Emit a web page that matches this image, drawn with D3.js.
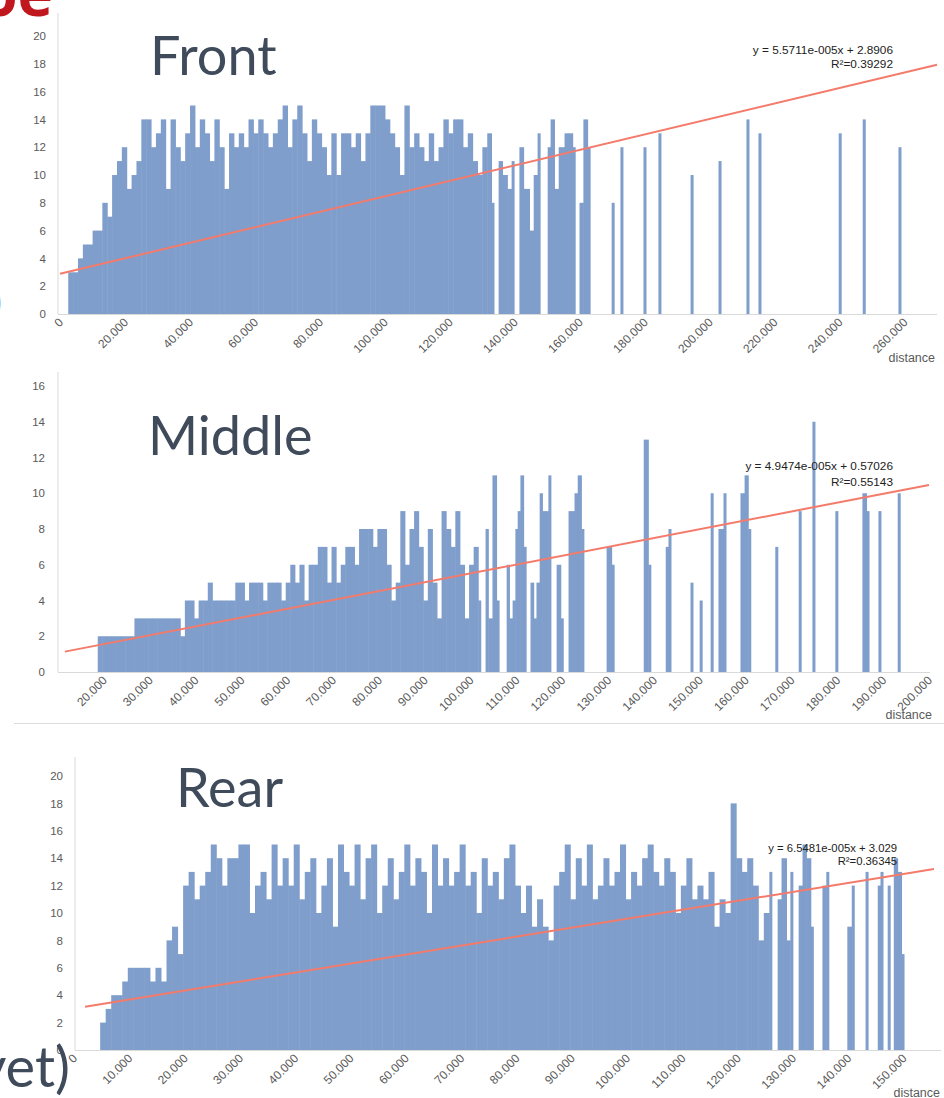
<!DOCTYPE html>
<html>
<head>
<meta charset="utf-8">
<script src="https://cdn.jsdelivr.net/npm/d3@7"></script>
<style>
  body { margin: 0; background: #fff; }
  svg { display: block; }
</style>
</head>
<body>
<svg id="chart" width="944" height="1098"></svg>
<script>
'use strict';

// ---- Front ----
const frontDist = [3000, 4500, 6000, 7500, 9000, 10500, 12000, 13500, 15000, 16500,
  18000, 19500, 21000, 22500, 24000, 25500, 27000, 28500, 30000, 31500,
  33000, 34500, 36000, 37500, 39000, 40500, 42000, 43500, 45000, 46500,
  48000, 49500, 51000, 52500, 54000, 55500, 57000, 58500, 60000, 61500,
  63000, 64500, 66000, 67500, 69000, 70500, 72000, 73500, 75000, 76500,
  78000, 79500, 81000, 82500, 84000, 85500, 87000, 88500, 90000, 91500,
  93000, 94500, 96000, 97500, 99000, 100500, 102000, 103500, 105000, 106500,
  108000, 109500, 111000, 112500, 114000, 115500, 117000, 118500, 120000, 121500,
  123000, 124500, 126000, 127500, 129000, 130500, 132000,
  133300, 135500, 136700, 138200, 139500, 141900, 143200, 145000, 146300, 147500,
  150600, 151500, 152700, 154000, 155800, 157000, 158300, 160400, 161600, 162900,
  170300, 173000, 180100, 184700, 194600, 203200, 211800, 215500, 240200, 247600, 258600];
const frontCount = [3, 3, 4, 5, 5, 6, 6, 8, 7, 10,
  11, 12, 9, 10, 11, 14, 14, 12, 13, 14,
  9, 14, 12, 11, 13, 15, 12, 14, 13, 11,
  14, 12, 9, 13, 12, 13, 12, 14, 13, 14,
  13, 12, 13, 14, 15, 12, 14, 15, 13, 11,
  14, 13, 12, 10, 13, 10, 13, 13, 12, 13,
  11, 13, 15, 15, 15, 14, 13, 12, 10, 15,
  12, 13, 12, 11, 13, 11, 12, 14, 13, 14,
  14, 12, 13, 11, 10, 12, 13,
  8, 11, 10, 9, 11, 12, 9, 6, 10, 13,
  12, 14, 9, 12, 13, 13, 12, 8, 14, 12,
  8, 12, 12, 13, 10, 11, 14, 13, 13, 14, 12];
const frontFit = [5.5711e-5, 2.8906];
const frontFitRange = [0, 270000];
const frontEq = ["y = 5.5711e-005x + 2.8906", "R\u00b2=0.39292"];
const frontXTicks = [0, 20000, 40000, 60000, 80000, 100000, 120000, 140000, 160000, 180000, 200000, 220000, 240000, 260000];
const frontYTicks = [0, 2, 4, 6, 8, 10, 12, 14, 16, 18, 20];

// ---- Middle ----
const middleDist = [19000, 20000, 21000, 22000, 23000, 24000, 25000, 26000, 27000, 28000,
  29000, 30000, 31000, 32000, 33000, 34000, 35000, 36000, 37000, 38000,
  39000, 40000, 41000, 42000, 43000, 44000, 45000, 46000, 47000, 48000,
  49000, 50000, 51000, 52000, 53000, 54000, 55000, 56000, 57000, 58000,
  59000, 60000, 61000, 62000, 63000, 64000, 65000, 66000, 67000, 68000,
  69000, 70000, 71000, 72000, 73000, 74000, 75000, 76000, 77000, 78000,
  79000, 80000, 81000, 82000, 83000, 84000, 85000, 86000, 87000, 88000,
  89000, 90000, 91000, 92000, 93000, 94000, 95000, 96000, 97000, 98000,
  99000, 100000, 101000, 102000,
  103600, 104200, 105100, 106000, 108200, 108800, 109500, 110100, 110600, 111200,
  111900, 113400, 114100, 114700, 115400, 116000, 117300, 119100, 120000, 121700,
  123000, 123700, 124500, 130000, 131100, 138100, 139100, 142900, 143500, 148300,
  150300, 152700, 154400, 155500, 159200, 160100, 160900, 166800, 171900, 174900,
  179900, 185800, 186700, 189300, 193500];
const middleCount = [2, 2, 2, 2, 2, 2, 2, 2, 3, 3,
  3, 3, 3, 3, 3, 3, 3, 3, 2, 4,
  4, 3, 4, 4, 5, 4, 4, 4, 4, 4,
  5, 5, 4, 5, 5, 5, 4, 5, 5, 5,
  4, 5, 6, 5, 6, 4, 6, 6, 7, 7,
  5, 7, 5, 6, 7, 7, 6, 8, 8, 8,
  7, 8, 8, 6, 4, 5, 9, 6, 8, 9,
  7, 4, 8, 5, 3, 9, 8, 7, 9, 6,
  3, 6, 7, 4,
  8, 3, 11, 4, 6, 3, 4, 8, 9, 11,
  7, 5, 3, 5, 10, 9, 11, 6, 3, 9,
  10, 11, 8, 7, 6, 13, 6, 7, 8, 5,
  4, 10, 8, 10, 10, 11, 8, 7, 9, 14,
  9, 10, 9, 9, 10];
const middleFit = [4.9474e-5, 0.57026];
const middleFitRange = [11500, 200000];
const middleEq = ["y = 4.9474e-005x + 0.57026", "R\u00b2=0.55143"];
const middleXTicks = [20000, 30000, 40000, 50000, 60000, 70000, 80000, 90000, 100000, 110000,
  120000, 130000, 140000, 150000, 160000, 170000, 180000, 190000, 200000];
const middleYTicks = [0, 2, 4, 6, 8, 10, 12, 14, 16];

// ---- Rear ----
const rearDist = [5000, 6000, 7000, 8000, 9000, 10000, 11000, 12000, 13000, 14000,
  15000, 16000, 17000, 18000, 19000, 20000, 21000, 22000, 23000, 24000,
  25000, 26000, 27000, 28000, 29000, 30000, 31000, 32000, 33000, 34000,
  35000, 36000, 37000, 38000, 39000, 40000, 41000, 42000, 43000, 44000,
  45000, 46000, 47000, 48000, 49000, 50000, 51000, 52000, 53000, 54000,
  55000, 56000, 57000, 58000, 59000, 60000, 61000, 62000, 63000, 64000,
  65000, 66000, 67000, 68000, 69000, 70000, 71000, 72000, 73000, 74000,
  75000, 76000, 77000, 78000, 79000, 80000, 81000, 82000, 83000, 84000,
  85000, 86000, 87000, 88000, 89000, 90000, 91000, 92000, 93000, 94000,
  95000, 96000, 97000, 98000, 99000, 100000, 101000, 102000, 103000, 104000,
  105000, 106000, 107000, 108000, 109000, 110000, 111000, 112000, 113000, 114000,
  115000, 116000, 117000, 118000, 119000, 120000, 121000, 122000, 123000, 124000,
  125000, 126000,
  127500, 128200, 129100, 129800, 131300, 132000, 132700, 133500, 135600, 136300,
  140100, 140900, 143400, 145600, 146100, 147400, 148500, 149200, 149900];
const rearCount = [2, 3, 4, 4, 5, 6, 6, 6, 6, 5,
  6, 5, 8, 9, 7, 12, 13, 11, 12, 13,
  15, 14, 12, 14, 14, 15, 15, 10, 12, 13,
  11, 15, 12, 14, 12, 15, 11, 13, 14, 10,
  12, 14, 9, 15, 13, 12, 15, 11, 14, 15,
  10, 12, 14, 11, 13, 15, 12, 14, 13, 10,
  15, 12, 14, 12, 13, 15, 12, 13, 10, 14,
  12, 13, 11, 14, 15, 12, 10, 12, 9, 11,
  9, 8, 12, 13, 15, 11, 14, 12, 15, 11,
  12, 14, 12, 13, 15, 11, 13, 12, 14, 15,
  13, 12, 14, 13, 10, 12, 14, 11, 12, 11,
  13, 9, 11, 10, 18, 14, 13, 14, 12, 8,
  10, 13,
  11, 14, 8, 13, 12, 15, 14, 9, 12, 13,
  9, 12, 13, 12, 13, 12, 14, 13, 7];
const rearFit = [6.5481e-5, 3.029];
const rearFitRange = [2000, 155500];
const rearEq = ["y = 6.5481e-005x + 3.029", "R\u00b2=0.36345"];
const rearXTicks = [0, 10000, 20000, 30000, 40000, 50000, 60000, 70000, 80000, 90000,
  100000, 110000, 120000, 130000, 140000, 150000];
const rearYTicks = [0, 2, 4, 6, 8, 10, 12, 14, 16, 18, 20];

const barColor = "#7f9ecb";
const fitColor = "#f47b6b";
const titleColor = "#3f4b5b";
const tickColor = "#5a5a5a";
const axisColor = "#d9d9d9";

const svg = d3.select("#chart");
const fmt = v => d3.format(",")(v).replace(/,/g, ".");

function drawPanel(p) {
  const x = d3.scaleLinear().domain(p.xDomain).range([p.left, p.right]);
  const y = d3.scaleLinear().domain([0, p.yMax]).range([p.bottom, p.top]);
  const g = svg.append("g");

  // spine + baseline
  g.append("line")
    .attr("x1", p.spineX).attr("x2", p.spineX)
    .attr("y1", p.spineTop).attr("y2", p.bottom)
    .attr("stroke", axisColor);
  g.append("line")
    .attr("x1", p.spineX).attr("x2", p.axisEnd)
    .attr("y1", p.bottom + 0.5).attr("y2", p.bottom + 0.5)
    .attr("stroke", axisColor);

  // bars
  const pts = p.dist.map((d, i) => ({ d: d, v: p.count[i] }));
  pts.forEach((e, i) => {
    const gap = i < pts.length - 1 ? x(pts[i + 1].d) - x(e.d) : 99;
    e.w = gap <= 6 ? gap + 0.5 : 3;
  });
  g.selectAll("rect.bar").data(pts).join("rect")
    .attr("class", "bar")
    .attr("x", e => x(e.d) - 1.5)
    .attr("width", e => e.w)
    .attr("y", e => y(e.v))
    .attr("height", e => p.bottom - y(e.v))
    .attr("fill", barColor);

  // trend line
  const line = d3.line().x(d => x(d)).y(d => y(p.fit[0] * d + p.fit[1]));
  g.append("path")
    .attr("d", line(p.fitRange))
    .attr("fill", "none")
    .attr("stroke", fitColor)
    .attr("stroke-width", 2);

  // y axis
  const yAxis = g.append("g")
    .attr("transform", `translate(${p.spineX},0)`)
    .call(d3.axisLeft(y).tickValues(p.yTicks).tickSize(0).tickPadding(p.yPad));
  yAxis.select(".domain").remove();
  yAxis.selectAll("text")
    .attr("fill", tickColor)
    .style("font", "11.5px 'Liberation Sans', Arial, sans-serif");

  // x tick labels, rotated
  g.selectAll("text.xt").data(p.xTicks).join("text")
    .attr("class", "xt")
    .attr("transform", t => `translate(${x(t) + 4},${p.bottom + 9}) rotate(-45)`)
    .attr("text-anchor", "end")
    .attr("fill", tickColor)
    .style("font", "12px 'Liberation Sans', Arial, sans-serif")
    .text(fmt);

  g.append("text")
    .attr("x", p.distPos[0]).attr("y", p.distPos[1])
    .attr("text-anchor", "end")
    .attr("fill", tickColor)
    .style("font", "12.5px 'Liberation Sans', Arial, sans-serif")
    .text("distance");

  // equation
  g.selectAll("text.eq").data(p.eq).join("text")
    .attr("class", "eq")
    .attr("x", p.eqPos[0])
    .attr("y", (d, i) => p.eqPos[1] + i * p.eqGap)
    .attr("text-anchor", "end")
    .attr("fill", "#222")
    .style("font", p.eqFont + "px 'Liberation Sans', Arial, sans-serif")
    .text(d => d);

  // title
  g.append("text")
    .attr("x", p.titlePos[0]).attr("y", p.titlePos[1])
    .attr("fill", titleColor)
    .style("font", "54px Lato, 'Open Sans', sans-serif")
    .text(p.title);
}

drawPanel({
  title: "Front", dist: frontDist, count: frontCount, fit: frontFit, fitRange: frontFitRange,
  eq: frontEq, xTicks: frontXTicks, yTicks: frontYTicks,
  xDomain: [0, 270000], left: 60, right: 937, yMax: 20, bottom: 314, top: 36,
  spineX: 58, spineTop: 13, axisEnd: 937, yPad: 12,
  distPos: [935, 362], eqPos: [893, 54], eqGap: 14, eqFont: 11.8, titlePos: [150, 75]
});

drawPanel({
  title: "Middle", dist: middleDist, count: middleCount, fit: middleFit, fitRange: middleFitRange,
  eq: middleEq, xTicks: middleXTicks, yTicks: middleYTicks,
  xDomain: [10000, 200000], left: 58, right: 929, yMax: 16, bottom: 672, top: 386,
  spineX: 58, spineTop: 372, axisEnd: 930, yPad: 13,
  distPos: [932, 719], eqPos: [893, 470], eqGap: 16, eqFont: 11.8, titlePos: [148, 455]
});

drawPanel({
  title: "Rear", dist: rearDist, count: rearCount, fit: rearFit, fitRange: rearFitRange,
  eq: rearEq, xTicks: rearXTicks, yTicks: rearYTicks,
  xDomain: [0, 155500], left: 74, right: 934, yMax: 20, bottom: 1050, top: 776,
  spineX: 75, spineTop: 757, axisEnd: 941, yPad: 12,
  distPos: [940, 1097], eqPos: [897, 852], eqGap: 13, eqFont: 11.3, titlePos: [176, 807]
});

// separator under middle panel
svg.append("line")
  .attr("x1", 14).attr("x2", 944).attr("y1", 723.5).attr("y2", 723.5)
  .attr("stroke", "#dcdcdc");

// fragments of slide text cut at the edges
svg.append("text")
  .attr("x", 53).attr("y", 16).attr("text-anchor", "end")
  .attr("fill", "#c0161d")
  .style("font", "bold 60px 'Open Sans', sans-serif")
  .text("oe");
svg.append("text")
  .attr("x", 2).attr("y", 316).attr("text-anchor", "end")
  .attr("fill", titleColor)
  .style("font", "40px Lato, 'Open Sans', sans-serif")
  .text(")");
svg.append("text")
  .attr("x", 70).attr("y", 1087).attr("text-anchor", "end")
  .attr("fill", titleColor)
  .style("font", "56px Lato, 'Open Sans', sans-serif")
  .text("yet)");
</script>
</body>
</html>
